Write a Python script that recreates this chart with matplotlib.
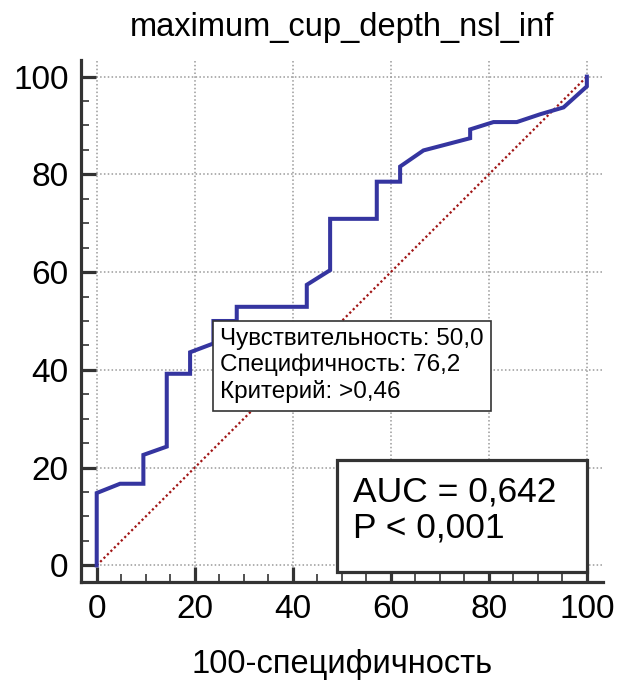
import matplotlib
matplotlib.use('Agg')
import matplotlib.pyplot as plt
from matplotlib.ticker import MultipleLocator
from matplotlib.patches import Rectangle

plt.rcParams['font.family'] = ['Liberation Sans', 'DejaVu Sans']

# ROC curve points (100-specificity, sensitivity)
fpr = [0, 0, 4.76, 9.52, 9.52, 14.29, 14.29, 19.05, 19.05, 23.81, 23.81, 28.57, 28.57,
       42.86, 42.86, 47.62, 47.62, 57.14, 57.14, 61.90, 61.90, 66.67, 76.19, 76.19,
       80.95, 85.71, 90.48, 95.24, 100, 100]
tpr = [0, 14.8, 16.7, 16.7, 22.6, 24.3, 39.2, 39.2, 43.6, 45.4, 50.0, 50.0, 52.9,
       52.9, 57.4, 60.4, 70.9, 70.9, 78.5, 78.5, 81.6, 84.9, 87.4, 89.2,
       90.7, 90.7, 92.3, 93.7, 98.0, 100]
diag = [0, 100]

crit_fpr = 23.81
crit_tpr = 50.0
crit_text = 'Чувствительность: 50,0\nСпецифичность: 76,2\nКритерий: >0,46'
auc_text = 'AUC = 0,642\nP < 0,001'
title = 'maximum_cup_depth_nsl_inf'
xlabel = '100-специфичность'

fig = plt.figure(figsize=(6.19, 6.81), dpi=100)
ax = fig.add_axes([0.1309, 0.1454, 0.9742 - 0.1309, 0.9119 - 0.1454])

ax.plot(diag, diag, color='#a01515', lw=1.6, ls=(0, (1, 1.2)), zorder=2)
ax.plot(fpr, tpr, color='#3535a0', lw=2.9, solid_joinstyle='miter', zorder=3)

ax.set_xlim(-3.2, 103.3)
ax.set_ylim(-3.4, 103.4)

ax.xaxis.set_major_locator(MultipleLocator(20))
ax.yaxis.set_major_locator(MultipleLocator(20))
ax.xaxis.set_minor_locator(MultipleLocator(5))
ax.yaxis.set_minor_locator(MultipleLocator(5))

ax.grid(True, which='major', color='#9a9a9a', ls=(0, (1, 1.5)), lw=1.1, zorder=1)

for s in ['top', 'right']:
    ax.spines[s].set_visible(False)
for s in ['left', 'bottom']:
    ax.spines[s].set_linewidth(2.3)
    ax.spines[s].set_color('#333333')

ax.tick_params(which='major', direction='in', length=11, width=2.3, color='#333333',
               labelsize=24, pad=9)
ax.tick_params(which='minor', direction='in', length=5.5, width=1.2, color='#333333')

ax.set_title(title, fontsize=23.5, pad=17)
ax.set_xlabel(xlabel, fontsize=23.5, labelpad=17)

ax.annotate(crit_text, xy=(crit_fpr, crit_tpr), xytext=(7, -7),
            textcoords='offset pixels', ha='left', va='top', fontsize=17.5,
            linespacing=1.22,
            bbox=dict(boxstyle='square,pad=0.3', fc='white', ec='#333333', lw=1.2),
            zorder=5)

# AUC box
ax.add_patch(Rectangle((0.4904, 0.0192), 0.9693 - 0.4904, 0.2337 - 0.0192,
                       transform=ax.transAxes, fc='white', ec='#333333', lw=2.3,
                       zorder=5))
ax.text(0.521, 0.138, auc_text, transform=ax.transAxes, ha='left', va='center',
        fontsize=25.5, linespacing=1.1, zorder=6)

fig.savefig('out.png', dpi=100)
